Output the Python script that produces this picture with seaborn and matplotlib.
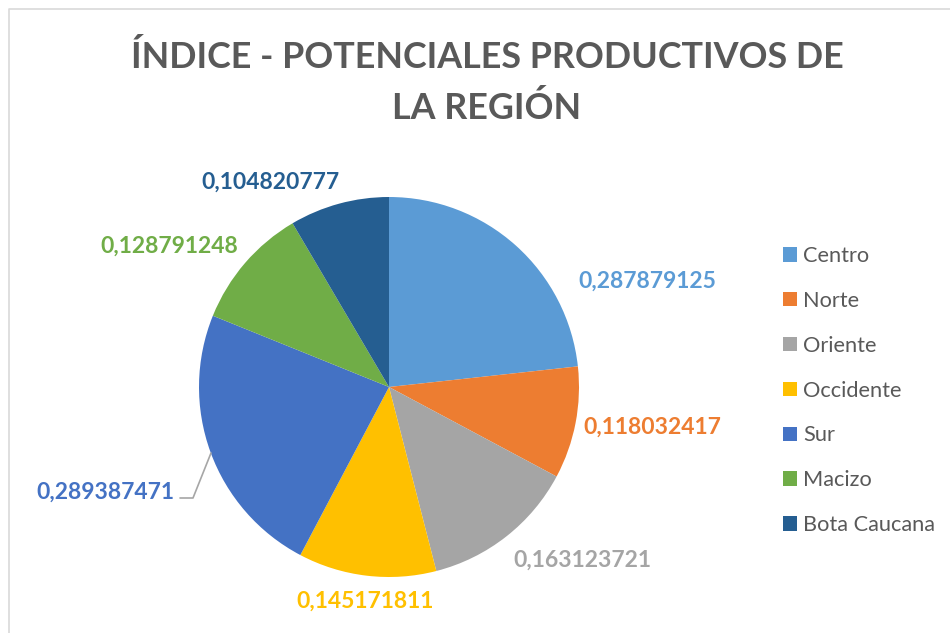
import matplotlib
matplotlib.use("Agg")
import matplotlib.pyplot as plt
import seaborn as sns

# ---- data ----
regions = ["Centro", "Norte", "Oriente", "Occidente", "Sur", "Macizo", "Bota Caucana"]
values = [0.287879125, 0.118032417, 0.163123721, 0.145171811, 0.289387471, 0.128791248, 0.104820777]
value_labels = ["0,287879125", "0,118032417", "0,163123721", "0,145171811",
                "0,289387471", "0,128791248", "0,104820777"]
colors = ["#5B9BD5", "#ED7D31", "#A5A5A5", "#FFC000", "#4472C4", "#70AD47", "#255E91"]
title_lines = ["ÍNDICE - POTENCIALES PRODUCTIVOS DE", "LA REGIÓN"]

# ---- layout (pixels, y measured from top) ----
W, H = 950, 633
label_pos = [(647, 281), (652, 427), (582, 560), (365, 601), (105, 492), (169, 246), (270, 182)]

sns.set_theme(style="white")
plt.rcParams['font.family'] = ['Lato', 'DejaVu Sans']
palette = sns.color_palette(colors)

fig = plt.figure(figsize=(9.5, 6.33), dpi=100)
fig.patch.set_facecolor("white")
ax = fig.add_axes([0, 0, 1, 1])

cx, cy, r = 389, H - 387, 190
wedges, _ = ax.pie(values, colors=palette, startangle=90, counterclock=False,
                   center=(cx, cy), radius=r, frame=True,
                   wedgeprops=dict(linewidth=0))
ax.set_xlim(0, W)
ax.set_ylim(0, H)
ax.set_aspect('equal')
ax.axis('off')

# chart border (partially visible)
ax.plot([8.5, 8.5, W + 5], [-5, H - 8.5, H - 8.5], color="#D9D9D9", lw=1.2, clip_on=False)

# data labels
for (lx, ly), txt, c in zip(label_pos, value_labels, palette):
    ax.text(lx, H - ly, txt, ha="center", va="center", fontsize=16.5,
            fontweight="bold", color=c)

# leader line for Sur
ax.plot([180, 193, 211], [H - 498, H - 498, H - 453], color="#A6A6A6", lw=1.2)

# title
fig.text(487 / W, 1 - 57 / H, title_lines[0], ha="center", va="center",
         fontsize=25.8, fontweight="bold", color="#595959")
fig.text(487 / W, 1 - 108 / H, title_lines[1], ha="center", va="center",
         fontsize=25.8, fontweight="bold", color="#595959")

# legend
leg = ax.legend(wedges, regions, loc="upper left",
                bbox_to_anchor=(783 / W, 1 - 246 / H), bbox_transform=fig.transFigure,
                frameon=False, fontsize=15.7, handlelength=0.64, handleheight=0.64,
                handletextpad=0.3, labelspacing=1.14, borderpad=0, borderaxespad=0,
                labelcolor="#595959")

fig.savefig("out.png", dpi=100, facecolor="white")
